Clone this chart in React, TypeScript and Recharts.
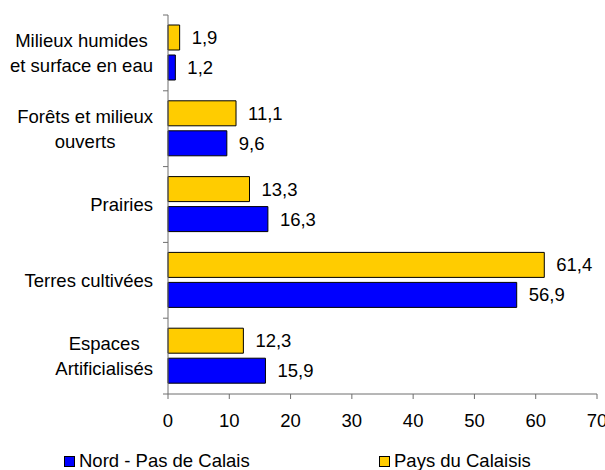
import { BarChart, Bar, XAxis, YAxis, LabelList } from 'recharts';

const categories = ['Milieux humides\net surface en eau', 'Forêts et milieux\nouverts', 'Prairies', 'Terres cultivées', 'Espaces\nArtificialisés'];
const nordPasDeCalais = [1.2, 9.6, 16.3, 56.9, 15.9];
const paysDuCalaisis = [1.9, 11.1, 13.3, 61.4, 12.3];
const xTicks = [0, 10, 20, 30, 40, 50, 60, 70];

const FONT = '"Liberation Sans", Arial, sans-serif';
const FONT_SIZE = 18.5;
const AXIS_COLOR = '#6e6e6e';

const data = categories.map((name, i) => ({
    name,
    nord: nordPasDeCalais[i],
    calaisis: paysDuCalaisis[i],
}));

const CHART_H = 470;
const TOP = 15;
const PLOT_BOTTOM = 394;
const half = (PLOT_BOTTOM - TOP) / categories.length / 2;

// multi-line labels: lines centred on each other, block right-aligned next to the axis
function CategoryTick(props: any) {
    const { x, y, payload, index } = props;
    const lines = String(payload.value).split('\n');
    return (
        <g>
            <line x1={x} x2={x - 5} y1={y - half} y2={y - half} stroke={AXIS_COLOR} />
            {index === categories.length - 1 && (
                <line x1={x} x2={x - 5} y1={y + half} y2={y + half} stroke={AXIS_COLOR} />
            )}
            <foreignObject x={0} y={y - 40} width={x - 15} height={80}>
                <div style={{ height: 80, display: 'flex', alignItems: 'center', justifyContent: 'flex-end' }}>
                    <div style={{ textAlign: 'center', lineHeight: '25px', fontFamily: FONT, fontSize: FONT_SIZE, color: '#000', whiteSpace: 'nowrap' }}>
                        {lines.map((l, i) => (
                            <div key={i}>{l}</div>
                        ))}
                    </div>
                </div>
            </foreignObject>
        </g>
    );
}

const fmt = (v: any) => String(v).replace('.', ',');

function LegendItem({ color, label, left }: { color: string; label: string; left: number }) {
    return (
        <div style={{ position: 'absolute', left, top: 450, display: 'flex', alignItems: 'center', fontFamily: FONT, fontSize: FONT_SIZE }}>
            <span style={{ width: 9, height: 9, background: color, border: '1px solid #000', marginRight: 4, display: 'inline-block' }} />
            <span>{label}</span>
        </div>
    );
}

export default function App() {
    return (
        <div style={{ position: 'absolute', left: 0, top: 0, width: 605, height: CHART_H, background: '#fff' }}>
            <BarChart
                width={605}
                height={CHART_H}
                data={data}
                layout="vertical"
                margin={{ top: TOP, right: 8, left: 0, bottom: CHART_H - PLOT_BOTTOM - 40 }}
                barSize={25}
                barGap={5}
            >
                <XAxis
                    type="number"
                    domain={[0, 70]}
                    ticks={xTicks}
                    height={40}
                    stroke={AXIS_COLOR}
                    tickSize={5}
                    tickMargin={15}
                    tick={{ fill: '#000', fontSize: FONT_SIZE, fontFamily: FONT }}
                    interval={0}
                />
                <YAxis
                    type="category"
                    dataKey="name"
                    width={168}
                    stroke={AXIS_COLOR}
                    tickLine={false}
                    tickSize={0}
                    tickMargin={0}
                    tick={<CategoryTick />}
                    interval={0}
                />
                <Bar dataKey="calaisis" name="Pays du Calaisis" fill="#FFCC00" stroke="#000" strokeWidth={1} isAnimationActive={false}>
                    <LabelList dataKey="calaisis" position="right" offset={12} formatter={fmt} fill="#000" fontSize={FONT_SIZE} fontFamily={FONT} />
                </Bar>
                <Bar dataKey="nord" name="Nord - Pas de Calais" fill="#0000FF" stroke="#000" strokeWidth={1} isAnimationActive={false}>
                    <LabelList dataKey="nord" position="right" offset={12} formatter={fmt} fill="#000" fontSize={FONT_SIZE} fontFamily={FONT} />
                </Bar>
            </BarChart>
            <LegendItem color="#0000FF" label="Nord - Pas de Calais" left={64} />
            <LegendItem color="#FFCC00" label="Pays du Calaisis" left={379} />
        </div>
    );
}
